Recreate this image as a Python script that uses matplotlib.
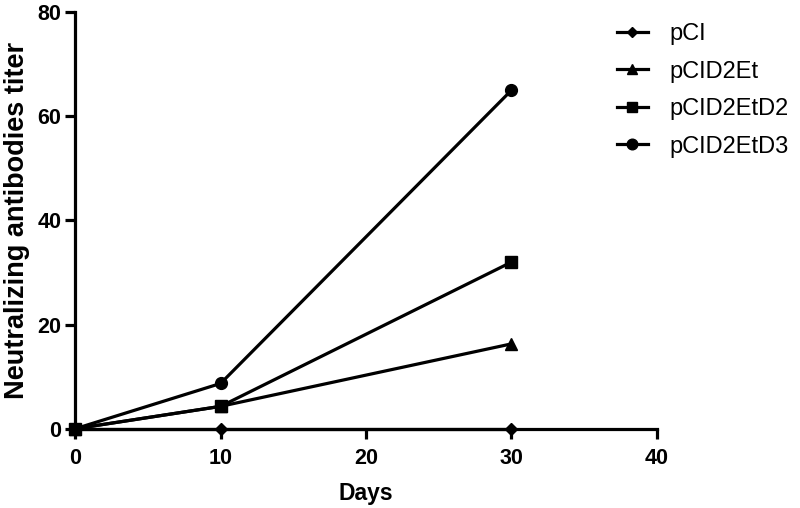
import matplotlib
matplotlib.use("Agg")
import matplotlib.pyplot as plt

# ==== DATA ====
days = [0, 10, 30]
pCI = [0, 0, 0]
pCID2Et = [0, 4.3, 16.3]
pCID2EtD2 = [0, 4.3, 32]
pCID2EtD3 = [0, 8.7, 65]

series = [
    ("pCI", pCI, "D", 6),
    ("pCID2Et", pCID2Et, "^", 8),
    ("pCID2EtD2", pCID2EtD2, "s", 8),
    ("pCID2EtD3", pCID2EtD3, "o", 8.5),
]

plt.rcParams['font.family'] = ['Liberation Sans', 'DejaVu Sans']

fig = plt.figure(figsize=(8, 5.08), dpi=100)
ax = fig.add_axes([0.094, 0.156, 0.727, 0.82])

for name, vals, mk, ms in series:
    ax.plot(days, vals, color='black', lw=2.3, marker=mk, markersize=ms,
            label=name, clip_on=False, zorder=3)

ax.set_xlim(0, 40)
ax.set_ylim(0, 80)
ax.set_xticks([0, 10, 20, 30, 40])
ax.set_yticks([0, 20, 40, 60, 80])

for s in ['top', 'right']:
    ax.spines[s].set_visible(False)
for s in ['left', 'bottom']:
    ax.spines[s].set_linewidth(2.3)
ax.tick_params(width=2.3, length=7, labelsize=15.5)
ax.tick_params(axis='x', pad=7)
ax.tick_params(axis='y', pad=3)
for lbl in ax.get_xticklabels() + ax.get_yticklabels():
    lbl.set_fontweight('bold')

ax.set_xlabel('Days', fontsize=16.5, fontweight='bold', labelpad=9)
ax.set_ylabel('Neutralizing antibodies titer', fontsize=19.5, fontweight='bold', labelpad=5)

# legend placed in figure pixels (handle starts around x=617)
ax.legend(loc='upper left', bbox_to_anchor=(617 / 800, 1 - 23 / 508),
          bbox_transform=fig.transFigure, frameon=False, borderaxespad=0,
          borderpad=0, fontsize=17, handlelength=1.3, labelspacing=0.66,
          handletextpad=0.9, markerscale=0.9)

fig.savefig('out.png', dpi=100)
